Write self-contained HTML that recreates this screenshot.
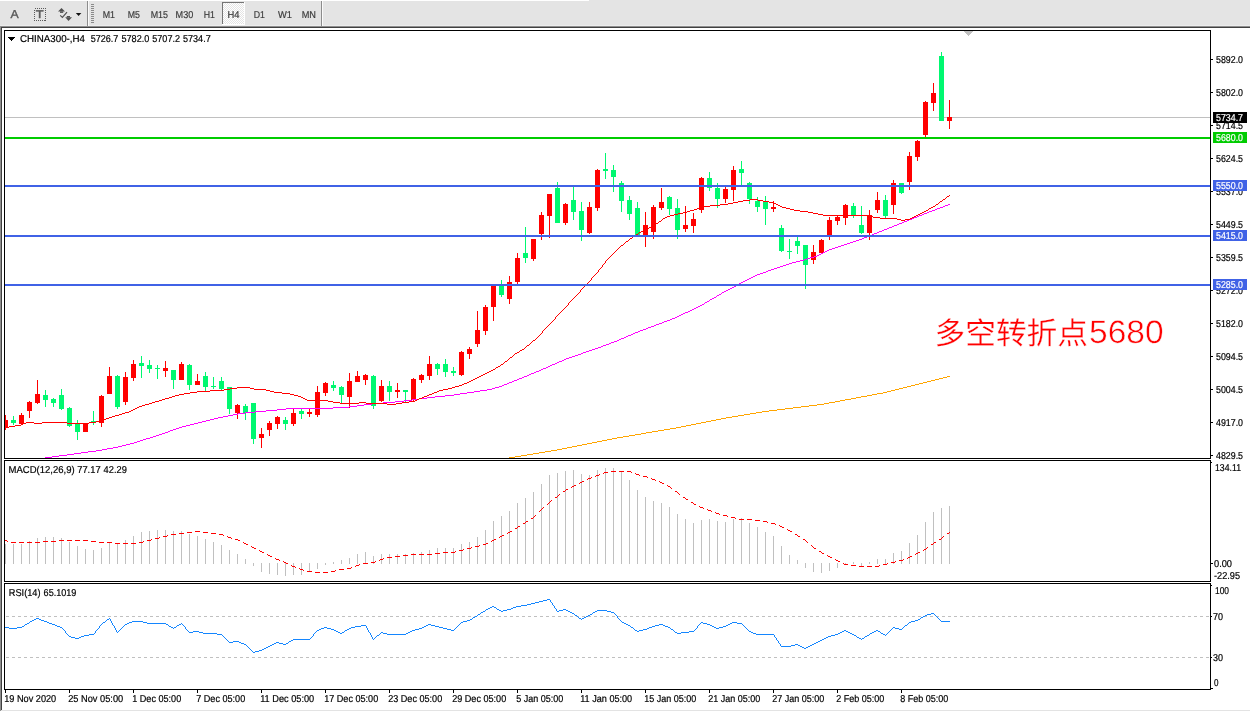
<!DOCTYPE html>
<html><head><meta charset="utf-8"><title>CHINA300 H4</title>
<style>html,body{margin:0;padding:0;background:#fff;overflow:hidden}svg{display:block;will-change:transform}</style>
</head><body>
<svg width="1250" height="712" viewBox="0 0 1250 712" shape-rendering="crispEdges" font-family="Liberation Sans, sans-serif" text-rendering="geometricPrecision">
<rect x="0" y="0" width="1250" height="712" fill="#fff"/>
<rect x="0" y="0" width="1250" height="26" fill="#e4e4e4"/>
<rect x="0" y="0" width="589" height="1" fill="#ffffff"/>
<rect x="0" y="25" width="1250" height="1" fill="#ececec"/>
<rect x="0" y="26" width="1250" height="1" fill="#8e8e8e"/>
<rect x="1" y="27" width="1249" height="1" fill="#404040"/>
<rect x="0" y="26" width="1" height="685" fill="#8e8e8e"/>
<rect x="1" y="710" width="1249" height="1" fill="#e3e3e3"/>
<rect x="1" y="27" width="1" height="683" fill="#404040"/>
<rect x="87" y="1" width="1" height="25" fill="#8c8c8c"/>
<rect x="88" y="1" width="1" height="25" fill="#fafafa"/>
<rect x="321" y="1" width="1" height="25" fill="#8c8c8c"/>
<rect x="322" y="1" width="1" height="25" fill="#fafafa"/>
<rect x="91" y="4" width="3" height="1" fill="#8a8a8a"/>
<rect x="91" y="6" width="3" height="1" fill="#8a8a8a"/>
<rect x="91" y="8" width="3" height="1" fill="#8a8a8a"/>
<rect x="91" y="10" width="3" height="1" fill="#8a8a8a"/>
<rect x="91" y="12" width="3" height="1" fill="#8a8a8a"/>
<rect x="91" y="14" width="3" height="1" fill="#8a8a8a"/>
<rect x="91" y="16" width="3" height="1" fill="#8a8a8a"/>
<rect x="91" y="18" width="3" height="1" fill="#8a8a8a"/>
<rect x="91" y="20" width="3" height="1" fill="#8a8a8a"/>
<rect x="91" y="22" width="3" height="1" fill="#8a8a8a"/>
<defs><pattern id="ck" x="223" y="3" width="2" height="2" patternUnits="userSpaceOnUse"><rect width="2" height="2" fill="#fff"/><rect x="0" y="0" width="1" height="1" fill="#e4e4e4"/><rect x="1" y="1" width="1" height="1" fill="#e4e4e4"/></pattern></defs>
<rect x="223" y="3" width="21" height="21" fill="url(#ck)"/>
<rect x="222" y="2" width="22" height="1" fill="#747474"/>
<rect x="222" y="2" width="1" height="22" fill="#747474"/>
<rect x="222" y="24" width="23" height="1" fill="#ffffff"/>
<rect x="244" y="2" width="1" height="23" fill="#ffffff"/>
<text x="10.5" y="18.1" font-size="11.5" fill="#5a5a5a" stroke="#5a5a5a" stroke-width="0.35" textLength="8.2" lengthAdjust="spacingAndGlyphs">A</text>
<rect x="34.5" y="8.5" width="11" height="12" fill="none" stroke="#5a5a5a" stroke-dasharray="1 1"/>
<text x="35.8" y="18.3" font-size="11.2" fill="#5a5a5a" stroke="#5a5a5a" stroke-width="0.45" textLength="7.8" lengthAdjust="spacingAndGlyphs">T</text>
<g shape-rendering="auto" fill="#505050"><path d="M58 11.6 L61.5 8 L65 11.6 Z"/><rect x="60" y="11.4" width="3.2" height="1.5"/><path d="M65.2 17.2 L72 17.2 L68.5 20.9 Z"/><rect x="66.8" y="16" width="3.2" height="1.4"/><path d="M60.2 15.4 L62.4 17.5 L67 12.2" fill="none" stroke="#505050" stroke-width="1.2"/><path d="M75.8 13 L81.4 13 L78.6 16 Z" fill="#111"/></g>
<text x="102.7" y="18" font-size="10" fill="#3c3c3c" stroke="#3c3c3c" stroke-width="0.2" textLength="12.3" lengthAdjust="spacingAndGlyphs" >M1</text>
<text x="127.8" y="18" font-size="10" fill="#3c3c3c" stroke="#3c3c3c" stroke-width="0.2" textLength="12.2" lengthAdjust="spacingAndGlyphs" >M5</text>
<text x="150.7" y="18" font-size="10" fill="#3c3c3c" stroke="#3c3c3c" stroke-width="0.2" textLength="17.3" lengthAdjust="spacingAndGlyphs" >M15</text>
<text x="175.6" y="18" font-size="10" fill="#3c3c3c" stroke="#3c3c3c" stroke-width="0.2" textLength="17.7" lengthAdjust="spacingAndGlyphs" >M30</text>
<text x="203.8" y="18" font-size="10" fill="#3c3c3c" stroke="#3c3c3c" stroke-width="0.2" textLength="11.2" lengthAdjust="spacingAndGlyphs" >H1</text>
<text x="227.6" y="18" font-size="10" fill="#3c3c3c" stroke="#3c3c3c" stroke-width="0.2" textLength="12" lengthAdjust="spacingAndGlyphs" >H4</text>
<text x="253.8" y="18" font-size="10" fill="#3c3c3c" stroke="#3c3c3c" stroke-width="0.2" textLength="11.2" lengthAdjust="spacingAndGlyphs" >D1</text>
<text x="278" y="18" font-size="10" fill="#3c3c3c" stroke="#3c3c3c" stroke-width="0.2" textLength="14" lengthAdjust="spacingAndGlyphs" >W1</text>
<text x="301.7" y="18" font-size="10" fill="#3c3c3c" stroke="#3c3c3c" stroke-width="0.2" textLength="14.3" lengthAdjust="spacingAndGlyphs" >MN</text>
<rect x="5" y="117" width="1205" height="1" fill="#c0c0c0"/>
<rect x="5" y="415" width="1" height="15" fill="#ff0000"/>
<rect x="5" y="420" width="3" height="8" fill="#ff0000"/>
<rect x="13" y="416" width="1" height="9" fill="#00f870"/>
<rect x="11" y="420" width="5" height="3" fill="#00f870"/>
<rect x="21" y="413" width="1" height="11" fill="#ff0000"/>
<rect x="19" y="415" width="5" height="9" fill="#ff0000"/>
<rect x="29" y="401" width="1" height="17" fill="#ff0000"/>
<rect x="27" y="402" width="5" height="9" fill="#ff0000"/>
<rect x="37" y="380" width="1" height="24" fill="#ff0000"/>
<rect x="35" y="394" width="5" height="9" fill="#ff0000"/>
<rect x="45" y="390" width="1" height="17" fill="#00f870"/>
<rect x="43" y="395" width="5" height="5" fill="#00f870"/>
<rect x="53" y="398" width="1" height="9" fill="#00f870"/>
<rect x="51" y="399" width="5" height="4" fill="#00f870"/>
<rect x="61" y="389" width="1" height="21" fill="#00f870"/>
<rect x="59" y="395" width="5" height="14" fill="#00f870"/>
<rect x="69" y="407" width="1" height="20" fill="#00f870"/>
<rect x="67" y="408" width="5" height="18" fill="#00f870"/>
<rect x="77" y="420" width="1" height="20" fill="#00f870"/>
<rect x="75" y="423" width="5" height="9" fill="#00f870"/>
<rect x="85" y="423" width="1" height="9" fill="#ff0000"/>
<rect x="83" y="423" width="5" height="9" fill="#ff0000"/>
<rect x="93" y="411" width="1" height="14" fill="#00f870"/>
<rect x="91" y="421" width="5" height="2" fill="#00f870"/>
<rect x="101" y="395" width="1" height="32" fill="#ff0000"/>
<rect x="99" y="396" width="5" height="27" fill="#ff0000"/>
<rect x="109" y="367" width="1" height="27" fill="#ff0000"/>
<rect x="107" y="376" width="5" height="18" fill="#ff0000"/>
<rect x="117" y="375" width="1" height="34" fill="#00f870"/>
<rect x="115" y="376" width="5" height="31" fill="#00f870"/>
<rect x="125" y="372" width="1" height="33" fill="#ff0000"/>
<rect x="123" y="377" width="5" height="25" fill="#ff0000"/>
<rect x="133" y="360" width="1" height="21" fill="#ff0000"/>
<rect x="131" y="364" width="5" height="14" fill="#ff0000"/>
<rect x="141" y="356" width="1" height="22" fill="#00f870"/>
<rect x="139" y="363" width="5" height="3" fill="#00f870"/>
<rect x="149" y="360" width="1" height="13" fill="#00f870"/>
<rect x="147" y="365" width="5" height="4" fill="#00f870"/>
<rect x="157" y="365" width="1" height="14" fill="#00f870"/>
<rect x="155" y="368" width="5" height="1" fill="#00f870"/>
<rect x="165" y="361" width="1" height="16" fill="#ff0000"/>
<rect x="163" y="368" width="5" height="3" fill="#ff0000"/>
<rect x="173" y="370" width="1" height="19" fill="#00f870"/>
<rect x="171" y="370" width="5" height="10" fill="#00f870"/>
<rect x="181" y="362" width="1" height="18" fill="#ff0000"/>
<rect x="179" y="364" width="5" height="16" fill="#ff0000"/>
<rect x="189" y="364" width="1" height="26" fill="#00f870"/>
<rect x="187" y="365" width="5" height="20" fill="#00f870"/>
<rect x="197" y="374" width="1" height="11" fill="#ff0000"/>
<rect x="195" y="381" width="5" height="4" fill="#ff0000"/>
<rect x="205" y="372" width="1" height="20" fill="#00f870"/>
<rect x="203" y="376" width="5" height="11" fill="#00f870"/>
<rect x="213" y="377" width="1" height="12" fill="#00f870"/>
<rect x="211" y="386" width="5" height="1" fill="#00f870"/>
<rect x="221" y="377" width="1" height="14" fill="#00f870"/>
<rect x="219" y="381" width="5" height="8" fill="#00f870"/>
<rect x="229" y="387" width="1" height="27" fill="#00f870"/>
<rect x="227" y="387" width="5" height="22" fill="#00f870"/>
<rect x="237" y="404" width="1" height="15" fill="#ff0000"/>
<rect x="235" y="405" width="5" height="8" fill="#ff0000"/>
<rect x="245" y="404" width="1" height="16" fill="#00f870"/>
<rect x="243" y="406" width="5" height="7" fill="#00f870"/>
<rect x="253" y="403" width="1" height="41" fill="#00f870"/>
<rect x="251" y="403" width="5" height="36" fill="#00f870"/>
<rect x="261" y="428" width="1" height="20" fill="#ff0000"/>
<rect x="259" y="434" width="5" height="4" fill="#ff0000"/>
<rect x="269" y="421" width="1" height="15" fill="#ff0000"/>
<rect x="267" y="423" width="5" height="7" fill="#ff0000"/>
<rect x="277" y="416" width="1" height="13" fill="#ff0000"/>
<rect x="275" y="417" width="5" height="7" fill="#ff0000"/>
<rect x="285" y="417" width="1" height="13" fill="#00f870"/>
<rect x="283" y="420" width="5" height="4" fill="#00f870"/>
<rect x="293" y="409" width="1" height="17" fill="#ff0000"/>
<rect x="291" y="413" width="5" height="11" fill="#ff0000"/>
<rect x="301" y="409" width="1" height="10" fill="#00f870"/>
<rect x="299" y="411" width="5" height="3" fill="#00f870"/>
<rect x="309" y="409" width="1" height="8" fill="#ff0000"/>
<rect x="307" y="412" width="5" height="2" fill="#ff0000"/>
<rect x="317" y="386" width="1" height="31" fill="#ff0000"/>
<rect x="315" y="392" width="5" height="23" fill="#ff0000"/>
<rect x="325" y="382" width="1" height="14" fill="#ff0000"/>
<rect x="323" y="383" width="5" height="10" fill="#ff0000"/>
<rect x="333" y="381" width="1" height="10" fill="#00f870"/>
<rect x="331" y="385" width="5" height="3" fill="#00f870"/>
<rect x="341" y="386" width="1" height="18" fill="#00f870"/>
<rect x="339" y="387" width="5" height="8" fill="#00f870"/>
<rect x="349" y="373" width="1" height="35" fill="#ff0000"/>
<rect x="347" y="381" width="5" height="16" fill="#ff0000"/>
<rect x="357" y="371" width="1" height="11" fill="#ff0000"/>
<rect x="355" y="376" width="5" height="6" fill="#ff0000"/>
<rect x="365" y="374" width="1" height="11" fill="#ff0000"/>
<rect x="363" y="375" width="5" height="5" fill="#ff0000"/>
<rect x="373" y="375" width="1" height="34" fill="#00f870"/>
<rect x="371" y="376" width="5" height="30" fill="#00f870"/>
<rect x="381" y="380" width="1" height="22" fill="#ff0000"/>
<rect x="379" y="386" width="5" height="15" fill="#ff0000"/>
<rect x="389" y="381" width="1" height="20" fill="#00f870"/>
<rect x="387" y="386" width="5" height="6" fill="#00f870"/>
<rect x="397" y="383" width="1" height="15" fill="#ff0000"/>
<rect x="395" y="390" width="5" height="2" fill="#ff0000"/>
<rect x="405" y="390" width="1" height="12" fill="#00f870"/>
<rect x="403" y="390" width="5" height="2" fill="#00f870"/>
<rect x="413" y="378" width="1" height="24" fill="#ff0000"/>
<rect x="411" y="379" width="5" height="21" fill="#ff0000"/>
<rect x="421" y="374" width="1" height="9" fill="#ff0000"/>
<rect x="419" y="375" width="5" height="5" fill="#ff0000"/>
<rect x="429" y="356" width="1" height="24" fill="#ff0000"/>
<rect x="427" y="364" width="5" height="12" fill="#ff0000"/>
<rect x="437" y="363" width="1" height="12" fill="#00f870"/>
<rect x="435" y="364" width="5" height="5" fill="#00f870"/>
<rect x="445" y="359" width="1" height="18" fill="#00f870"/>
<rect x="443" y="364" width="5" height="8" fill="#00f870"/>
<rect x="453" y="367" width="1" height="9" fill="#00f870"/>
<rect x="451" y="371" width="5" height="2" fill="#00f870"/>
<rect x="461" y="351" width="1" height="25" fill="#ff0000"/>
<rect x="459" y="352" width="5" height="23" fill="#ff0000"/>
<rect x="469" y="347" width="1" height="12" fill="#ff0000"/>
<rect x="467" y="349" width="5" height="5" fill="#ff0000"/>
<rect x="477" y="311" width="1" height="36" fill="#ff0000"/>
<rect x="475" y="330" width="5" height="14" fill="#ff0000"/>
<rect x="485" y="305" width="1" height="30" fill="#ff0000"/>
<rect x="483" y="307" width="5" height="24" fill="#ff0000"/>
<rect x="493" y="284" width="1" height="37" fill="#ff0000"/>
<rect x="491" y="284" width="5" height="23" fill="#ff0000"/>
<rect x="501" y="280" width="1" height="17" fill="#00f870"/>
<rect x="499" y="286" width="5" height="9" fill="#00f870"/>
<rect x="509" y="276" width="1" height="28" fill="#ff0000"/>
<rect x="507" y="282" width="5" height="17" fill="#ff0000"/>
<rect x="517" y="253" width="1" height="31" fill="#ff0000"/>
<rect x="515" y="258" width="5" height="24" fill="#ff0000"/>
<rect x="525" y="227" width="1" height="36" fill="#00f870"/>
<rect x="523" y="253" width="5" height="5" fill="#00f870"/>
<rect x="533" y="239" width="1" height="22" fill="#ff0000"/>
<rect x="531" y="239" width="5" height="20" fill="#ff0000"/>
<rect x="541" y="212" width="1" height="28" fill="#ff0000"/>
<rect x="539" y="215" width="5" height="19" fill="#ff0000"/>
<rect x="549" y="194" width="1" height="44" fill="#ff0000"/>
<rect x="547" y="194" width="5" height="22" fill="#ff0000"/>
<rect x="557" y="182" width="1" height="41" fill="#00f870"/>
<rect x="555" y="188" width="5" height="35" fill="#00f870"/>
<rect x="565" y="203" width="1" height="22" fill="#ff0000"/>
<rect x="563" y="204" width="5" height="19" fill="#ff0000"/>
<rect x="573" y="185" width="1" height="35" fill="#00f870"/>
<rect x="571" y="200" width="5" height="12" fill="#00f870"/>
<rect x="581" y="202" width="1" height="39" fill="#00f870"/>
<rect x="579" y="211" width="5" height="19" fill="#00f870"/>
<rect x="589" y="202" width="1" height="32" fill="#ff0000"/>
<rect x="587" y="207" width="5" height="26" fill="#ff0000"/>
<rect x="597" y="169" width="1" height="42" fill="#ff0000"/>
<rect x="595" y="170" width="5" height="38" fill="#ff0000"/>
<rect x="605" y="153" width="1" height="26" fill="#00f870"/>
<rect x="603" y="169" width="5" height="2" fill="#00f870"/>
<rect x="613" y="165" width="1" height="27" fill="#00f870"/>
<rect x="611" y="170" width="5" height="7" fill="#00f870"/>
<rect x="621" y="181" width="1" height="31" fill="#00f870"/>
<rect x="619" y="183" width="5" height="18" fill="#00f870"/>
<rect x="629" y="196" width="1" height="24" fill="#00f870"/>
<rect x="627" y="200" width="5" height="14" fill="#00f870"/>
<rect x="637" y="202" width="1" height="34" fill="#00f870"/>
<rect x="635" y="208" width="5" height="28" fill="#00f870"/>
<rect x="645" y="212" width="1" height="35" fill="#ff0000"/>
<rect x="643" y="225" width="5" height="11" fill="#ff0000"/>
<rect x="653" y="205" width="1" height="34" fill="#ff0000"/>
<rect x="651" y="207" width="5" height="25" fill="#ff0000"/>
<rect x="661" y="188" width="1" height="22" fill="#ff0000"/>
<rect x="659" y="202" width="5" height="6" fill="#ff0000"/>
<rect x="669" y="196" width="1" height="19" fill="#00f870"/>
<rect x="667" y="197" width="5" height="12" fill="#00f870"/>
<rect x="677" y="199" width="1" height="40" fill="#00f870"/>
<rect x="675" y="208" width="5" height="22" fill="#00f870"/>
<rect x="685" y="206" width="1" height="26" fill="#ff0000"/>
<rect x="683" y="225" width="5" height="4" fill="#ff0000"/>
<rect x="693" y="213" width="1" height="20" fill="#ff0000"/>
<rect x="691" y="219" width="5" height="7" fill="#ff0000"/>
<rect x="701" y="177" width="1" height="36" fill="#ff0000"/>
<rect x="699" y="178" width="5" height="32" fill="#ff0000"/>
<rect x="709" y="172" width="1" height="19" fill="#00f870"/>
<rect x="707" y="178" width="5" height="10" fill="#00f870"/>
<rect x="717" y="183" width="1" height="25" fill="#00f870"/>
<rect x="715" y="188" width="5" height="11" fill="#00f870"/>
<rect x="725" y="187" width="1" height="16" fill="#ff0000"/>
<rect x="723" y="189" width="5" height="10" fill="#ff0000"/>
<rect x="733" y="166" width="1" height="35" fill="#ff0000"/>
<rect x="731" y="170" width="5" height="20" fill="#ff0000"/>
<rect x="741" y="161" width="1" height="24" fill="#00f870"/>
<rect x="739" y="169" width="5" height="4" fill="#00f870"/>
<rect x="749" y="182" width="1" height="22" fill="#00f870"/>
<rect x="747" y="183" width="5" height="16" fill="#00f870"/>
<rect x="757" y="197" width="1" height="15" fill="#00f870"/>
<rect x="755" y="201" width="5" height="6" fill="#00f870"/>
<rect x="765" y="196" width="1" height="29" fill="#00f870"/>
<rect x="763" y="202" width="5" height="7" fill="#00f870"/>
<rect x="773" y="201" width="1" height="11" fill="#ff0000"/>
<rect x="771" y="207" width="5" height="2" fill="#ff0000"/>
<rect x="781" y="225" width="1" height="27" fill="#00f870"/>
<rect x="779" y="228" width="5" height="23" fill="#00f870"/>
<rect x="789" y="239" width="1" height="20" fill="#00f870"/>
<rect x="787" y="251" width="5" height="1" fill="#00f870"/>
<rect x="797" y="237" width="1" height="17" fill="#00f870"/>
<rect x="795" y="241" width="5" height="5" fill="#00f870"/>
<rect x="805" y="245" width="1" height="44" fill="#00f870"/>
<rect x="803" y="245" width="5" height="20" fill="#00f870"/>
<rect x="813" y="245" width="1" height="19" fill="#ff0000"/>
<rect x="811" y="252" width="5" height="8" fill="#ff0000"/>
<rect x="821" y="239" width="1" height="14" fill="#ff0000"/>
<rect x="819" y="240" width="5" height="13" fill="#ff0000"/>
<rect x="829" y="217" width="1" height="23" fill="#ff0000"/>
<rect x="827" y="220" width="5" height="16" fill="#ff0000"/>
<rect x="837" y="216" width="1" height="9" fill="#ff0000"/>
<rect x="835" y="217" width="5" height="4" fill="#ff0000"/>
<rect x="845" y="204" width="1" height="21" fill="#ff0000"/>
<rect x="843" y="205" width="5" height="13" fill="#ff0000"/>
<rect x="853" y="203" width="1" height="15" fill="#00f870"/>
<rect x="851" y="206" width="5" height="9" fill="#00f870"/>
<rect x="861" y="206" width="1" height="28" fill="#00f870"/>
<rect x="859" y="225" width="5" height="8" fill="#00f870"/>
<rect x="869" y="210" width="1" height="30" fill="#ff0000"/>
<rect x="867" y="215" width="5" height="18" fill="#ff0000"/>
<rect x="877" y="192" width="1" height="21" fill="#ff0000"/>
<rect x="875" y="200" width="5" height="10" fill="#ff0000"/>
<rect x="885" y="195" width="1" height="23" fill="#00f870"/>
<rect x="883" y="200" width="5" height="16" fill="#00f870"/>
<rect x="893" y="180" width="1" height="34" fill="#ff0000"/>
<rect x="891" y="183" width="5" height="22" fill="#ff0000"/>
<rect x="901" y="183" width="1" height="11" fill="#00f870"/>
<rect x="899" y="183" width="5" height="10" fill="#00f870"/>
<rect x="909" y="152" width="1" height="38" fill="#ff0000"/>
<rect x="907" y="156" width="5" height="26" fill="#ff0000"/>
<rect x="917" y="140" width="1" height="21" fill="#ff0000"/>
<rect x="915" y="141" width="5" height="16" fill="#ff0000"/>
<rect x="925" y="101" width="1" height="36" fill="#ff0000"/>
<rect x="923" y="102" width="5" height="33" fill="#ff0000"/>
<rect x="933" y="83" width="1" height="28" fill="#ff0000"/>
<rect x="931" y="93" width="5" height="10" fill="#ff0000"/>
<rect x="941" y="52" width="1" height="69" fill="#00f870"/>
<rect x="939" y="56" width="5" height="65" fill="#00f870"/>
<rect x="949" y="100" width="1" height="29" fill="#ff0000"/>
<rect x="947" y="117" width="5" height="4" fill="#ff0000"/>
<path d="M947 376.5h3M943 377.5h4M939 378.5h4M935 379.5h4M931 380.5h4M927 381.5h4M923 382.5h4M919 383.5h4M915 384.5h4M911 385.5h4M907 386.5h4M903 387.5h4M899 388.5h4M895 389.5h4M891 390.5h4M887 391.5h4M883 392.5h4M877 393.5h6M872 394.5h5M867 395.5h5M861 396.5h6M856 397.5h5M851 398.5h5M845 399.5h6M840 400.5h5M835 401.5h5M829 402.5h6M824 403.5h5M817 404.5h7M809 405.5h8M801 406.5h8M793 407.5h8M785 408.5h8M777 409.5h8M769 410.5h8M762 411.5h7M756 412.5h6M750 413.5h6M744 414.5h6M738 415.5h6M732 416.5h6M726 417.5h6M721 418.5h5M716 419.5h5M711 420.5h5M706 421.5h5M701 422.5h5M696 423.5h5M691 424.5h5M686 425.5h5M681 426.5h5M676 427.5h5M670 428.5h6M664 429.5h6M658 430.5h6M652 431.5h6M646 432.5h6M641 433.5h5M635 434.5h6M629 435.5h6M623 436.5h6M617 437.5h6M612 438.5h5M607 439.5h5M602 440.5h5M597 441.5h5M592 442.5h5M587 443.5h5M582 444.5h5M577 445.5h5M572 446.5h5M567 447.5h5M562 448.5h5M557 449.5h5M551 450.5h6M545 451.5h6M539 452.5h6M533 453.5h6M527 454.5h6M521 455.5h6M515 456.5h6M509 457.5h6M505 458.5h4" fill="none" stroke="#ffa500" stroke-width="1"/>
<path d="M948 204.5h2M945 205.5h3M943 206.5h2M940 207.5h3M937 208.5h3M935 209.5h2M932 210.5h3M929 211.5h3M927 212.5h2M924 213.5h3M922 214.5h2M919 215.5h3M917 216.5h2M914 217.5h3M912 218.5h2M909 219.5h3M907 220.5h2M904 221.5h3M902 222.5h2M899 223.5h3M897 224.5h2M894 225.5h3M892 226.5h2M889 227.5h3M887 228.5h2M884 229.5h3M882 230.5h2M879 231.5h3M877 232.5h2M874 233.5h3M872 234.5h2M869 235.5h3M867 236.5h2M864 237.5h3M862 238.5h2M859 239.5h3M856 240.5h3M853 241.5h3M850 242.5h3M847 243.5h3M844 244.5h3M841 245.5h3M838 246.5h3M835 247.5h3M832 248.5h3M829 249.5h3M827 250.5h2M825 251.5h2M823 252.5h2M821 253.5h2M819 254.5h2M817 255.5h2M814 256.5h3M810 257.5h4M807 258.5h3M804 259.5h3M800 260.5h4M796 261.5h4M792 262.5h4M789 263.5h3M786 264.5h3M783 265.5h3M780 266.5h3M777 267.5h3M774 268.5h3M771 269.5h3M768 270.5h3M766 271.5h2M763 272.5h3M760 273.5h3M757 274.5h3M755 275.5h2M753 276.5h2M751 277.5h2M749 278.5h2M747 279.5h2M745 280.5h2M743 281.5h2M741 282.5h2M739 283.5h2M737 284.5h2M736 285.5h1M734 286.5h2M732 287.5h2M730 288.5h2M728 289.5h2M726 290.5h2M724 291.5h2M722 292.5h2M721 293.5h1M719 294.5h2M717 295.5h2M716 296.5h1M714 297.5h2M712 298.5h2M710 299.5h2M709 300.5h1M707 301.5h2M705 302.5h2M704 303.5h1M702 304.5h2M700 305.5h2M698 306.5h2M696 307.5h2M694 308.5h2M692 309.5h2M690 310.5h2M688 311.5h2M685 312.5h3M683 313.5h2M681 314.5h2M679 315.5h2M677 316.5h2M675 317.5h2M672 318.5h3M670 319.5h2M667 320.5h3M664 321.5h3M662 322.5h2M659 323.5h3M656 324.5h3M654 325.5h2M651 326.5h3M648 327.5h3M646 328.5h2M643 329.5h3M640 330.5h3M638 331.5h2M635 332.5h3M633 333.5h2M631 334.5h2M628 335.5h3M626 336.5h2M624 337.5h2M621 338.5h3M619 339.5h2M617 340.5h2M614 341.5h3M611 342.5h3M609 343.5h2M606 344.5h3M603 345.5h3M601 346.5h2M598 347.5h3M595 348.5h3M592 349.5h3M589 350.5h3M586 351.5h3M583 352.5h3M581 353.5h2M578 354.5h3M575 355.5h3M572 356.5h3M569 357.5h3M566 358.5h3M564 359.5h2M562 360.5h2M559 361.5h3M557 362.5h2M555 363.5h2M552 364.5h3M550 365.5h2M548 366.5h2M546 367.5h2M543 368.5h3M541 369.5h2M539 370.5h2M536 371.5h3M534 372.5h2M531 373.5h3M529 374.5h2M527 375.5h2M524 376.5h3M522 377.5h2M519 378.5h3M517 379.5h2M514 380.5h3M512 381.5h2M509 382.5h3M507 383.5h2M504 384.5h3M502 385.5h2M499 386.5h3M495 387.5h4M492 388.5h3M487 389.5h5M480 390.5h7M474 391.5h6M467 392.5h7M460 393.5h7M454 394.5h6M445 395.5h9M435 396.5h10M427 397.5h8M419 398.5h8M412 399.5h7M404 400.5h8M395 401.5h9M383 402.5h12M372 403.5h11M364 404.5h8M357 405.5h7M349 406.5h8M333 407.5h16M286 408.5h47M277 409.5h9M266 410.5h11M255 411.5h11M245 412.5h10M238 413.5h7M233 414.5h5M228 415.5h5M223 416.5h5M218 417.5h5M214 418.5h4M210 419.5h4M206 420.5h4M202 421.5h4M198 422.5h4M194 423.5h4M190 424.5h4M186 425.5h4M182 426.5h4M179 427.5h3M176 428.5h3M173 429.5h3M170 430.5h3M168 431.5h2M165 432.5h3M162 433.5h3M159 434.5h3M156 435.5h3M153 436.5h3M150 437.5h3M146 438.5h4M143 439.5h3M140 440.5h3M137 441.5h3M134 442.5h3M130 443.5h4M126 444.5h4M122 445.5h4M118 446.5h4M113 447.5h5M107 448.5h6M102 449.5h5M96 450.5h6M88 451.5h8M81 452.5h7M74 453.5h7M67 454.5h7M59 455.5h8M52 456.5h7M45 457.5h7M41 458.5h4" fill="none" stroke="#ff00ff" stroke-width="1"/>
<path d="M949 195.5h1M947 196.5h2M946 197.5h1M945 198.5h1M750 199.5h8M943 199.5h2M743 200.5h7M758 200.5h5M942 200.5h1M738 201.5h5M763 201.5h6M940 201.5h2M733 202.5h5M769 202.5h5M939 202.5h1M728 203.5h5M774 203.5h2M938 203.5h1M720 204.5h8M776 204.5h2M936 204.5h2M710 205.5h10M778 205.5h2M935 205.5h1M704 206.5h6M780 206.5h2M933 206.5h2M700 207.5h4M782 207.5h4M931 207.5h2M697 208.5h3M786 208.5h4M929 208.5h2M694 209.5h3M790 209.5h4M928 209.5h1M690 210.5h4M794 210.5h6M926 210.5h2M687 211.5h3M800 211.5h8M924 211.5h2M683 212.5h4M808 212.5h5M922 212.5h2M678 213.5h5M813 213.5h5M920 213.5h2M674 214.5h4M818 214.5h5M918 214.5h2M670 215.5h4M823 215.5h45M916 215.5h2M667 216.5h3M868 216.5h5M914 216.5h2M665 217.5h2M873 217.5h7M912 217.5h2M663 218.5h2M880 218.5h17M910 218.5h2M662 219.5h1M897 219.5h4M905 219.5h5M661 220.5h1M901 220.5h4M659 221.5h2M658 222.5h1M656 223.5h2M654 224.5h2M653 225.5h1M651 226.5h2M649 227.5h2M647 228.5h2M645 229.5h2M643 230.5h2M641 231.5h2M639 232.5h2M638 233.5h1M636 234.5h2M635 235.5h1M633 236.5h2M632 237.5h1M630 238.5h2M629 239.5h1M628 240.5h1M626 241.5h2M625 242.5h1M624 243.5h1M623 244.5h1M621 245.5h2M620 246.5h1M619 247.5h1M618 248.5h1M617 249.5h1M616 250.5h1M615 251.5h1M614 252.5h1M613 253.5h1M612 254.5h1M611 255.5h1M610 256.5h1M609 257.5h1M608 258.5h1M607 259.5h1M606 260.5h1M605 261.5h1M605 262.5h1M604 263.5h1M603 264.5h1M602 265.5h1M602 266.5h1M601 267.5h1M600 268.5h1M599 269.5h1M598 270.5h1M598 271.5h1M597 272.5h1M596 273.5h1M595 274.5h1M594 275.5h1M593 276.5h1M592 277.5h1M591 278.5h1M591 279.5h1M590 280.5h1M589 281.5h1M588 282.5h1M587 283.5h1M586 284.5h1M585 285.5h1M584 286.5h1M583 287.5h1M582 288.5h1M581 289.5h1M580 290.5h1M580 291.5h1M579 292.5h1M578 293.5h1M577 294.5h1M576 295.5h1M575 296.5h1M574 297.5h1M573 298.5h1M572 299.5h1M571 300.5h1M570 301.5h1M569 302.5h1M568 303.5h1M568 304.5h1M567 305.5h1M566 306.5h1M565 307.5h1M564 308.5h1M563 309.5h1M562 310.5h1M561 311.5h1M560 312.5h1M559 313.5h1M558 314.5h1M557 315.5h1M556 316.5h1M555 317.5h1M555 318.5h1M554 319.5h1M553 320.5h1M552 321.5h1M551 322.5h1M550 323.5h1M549 324.5h1M548 325.5h1M547 326.5h1M546 327.5h1M545 328.5h1M544 329.5h1M543 330.5h1M542 331.5h1M542 332.5h1M541 333.5h1M540 334.5h1M539 335.5h1M538 336.5h1M537 337.5h1M536 338.5h1M535 339.5h1M533 340.5h2M532 341.5h1M531 342.5h1M530 343.5h1M529 344.5h1M527 345.5h2M526 346.5h1M525 347.5h1M524 348.5h1M522 349.5h2M520 350.5h2M519 351.5h1M517 352.5h2M515 353.5h2M514 354.5h1M513 355.5h1M512 356.5h1M510 357.5h2M509 358.5h1M508 359.5h1M507 360.5h1M505 361.5h2M504 362.5h1M503 363.5h1M501 364.5h2M500 365.5h1M498 366.5h2M496 367.5h2M495 368.5h1M493 369.5h2M491 370.5h2M489 371.5h2M487 372.5h2M485 373.5h2M483 374.5h2M481 375.5h2M479 376.5h2M477 377.5h2M475 378.5h2M473 379.5h2M471 380.5h2M469 381.5h2M467 382.5h2M464 383.5h3M462 384.5h2M459 385.5h3M455 386.5h4M237 387.5h13M452 387.5h3M230 388.5h7M250 388.5h4M448 388.5h4M224 389.5h6M254 389.5h12M443 389.5h5M210 390.5h14M266 390.5h4M439 390.5h4M197 391.5h13M270 391.5h4M437 391.5h2M190 392.5h7M274 392.5h8M434 392.5h3M184 393.5h6M282 393.5h8M432 393.5h2M179 394.5h5M290 394.5h4M429 394.5h3M175 395.5h4M294 395.5h4M427 395.5h2M172 396.5h3M298 396.5h3M424 396.5h3M169 397.5h3M301 397.5h2M422 397.5h2M165 398.5h4M303 398.5h2M419 398.5h3M162 399.5h3M305 399.5h2M417 399.5h2M159 400.5h3M307 400.5h21M415 400.5h2M155 401.5h4M328 401.5h5M409 401.5h6M152 402.5h3M333 402.5h7M359 402.5h7M402 402.5h7M149 403.5h3M340 403.5h19M366 403.5h21M396 403.5h6M145 404.5h4M387 404.5h9M142 405.5h3M139 406.5h3M137 407.5h2M135 408.5h2M133 409.5h2M131 410.5h2M129 411.5h2M125 412.5h4M122 413.5h3M119 414.5h3M115 415.5h4M112 416.5h3M109 417.5h3M106 418.5h3M103 419.5h3M101 420.5h2M96 421.5h5M26 422.5h8M42 422.5h25M89 422.5h7M23 423.5h3M34 423.5h8M67 423.5h22M21 424.5h2M15 425.5h6M9 426.5h6M5 427.5h4" fill="none" stroke="#ff0000" stroke-width="1"/>
<rect x="5" y="137" width="1205" height="2" fill="#00cc00"/>
<rect x="5" y="185" width="1205" height="2" fill="#4062e6"/>
<rect x="5" y="235" width="1205" height="2" fill="#4062e6"/>
<rect x="5" y="284" width="1205" height="2" fill="#4062e6"/>
<path d="M963 31 L973 31 L968 36 Z" fill="#c0c0c0"/>
<rect x="4" y="30" width="1207" height="1" fill="#000"/>
<rect x="4" y="458" width="1207" height="1" fill="#000"/>
<rect x="4" y="30" width="1" height="429" fill="#000"/>
<rect x="1210" y="30" width="1" height="429" fill="#000"/>
<rect x="4" y="460" width="1207" height="1" fill="#000"/>
<rect x="4" y="581" width="1207" height="1" fill="#000"/>
<rect x="4" y="460" width="1" height="122" fill="#000"/>
<rect x="1210" y="460" width="1" height="122" fill="#000"/>
<rect x="4" y="583" width="1207" height="1" fill="#000"/>
<rect x="4" y="689" width="1207" height="1" fill="#000"/>
<rect x="4" y="583" width="1" height="107" fill="#000"/>
<rect x="1210" y="583" width="1" height="107" fill="#000"/>
<rect x="5" y="544" width="1" height="20" fill="#c0c0c0"/>
<rect x="13" y="544" width="1" height="20" fill="#c0c0c0"/>
<rect x="21" y="544" width="1" height="20" fill="#c0c0c0"/>
<rect x="29" y="541" width="1" height="23" fill="#c0c0c0"/>
<rect x="37" y="538" width="1" height="26" fill="#c0c0c0"/>
<rect x="45" y="537" width="1" height="27" fill="#c0c0c0"/>
<rect x="53" y="537" width="1" height="27" fill="#c0c0c0"/>
<rect x="61" y="538" width="1" height="26" fill="#c0c0c0"/>
<rect x="69" y="542" width="1" height="22" fill="#c0c0c0"/>
<rect x="77" y="546" width="1" height="18" fill="#c0c0c0"/>
<rect x="85" y="549" width="1" height="15" fill="#c0c0c0"/>
<rect x="93" y="550" width="1" height="14" fill="#c0c0c0"/>
<rect x="101" y="548" width="1" height="16" fill="#c0c0c0"/>
<rect x="109" y="543" width="1" height="21" fill="#c0c0c0"/>
<rect x="117" y="544" width="1" height="20" fill="#c0c0c0"/>
<rect x="125" y="540" width="1" height="24" fill="#c0c0c0"/>
<rect x="133" y="536" width="1" height="28" fill="#c0c0c0"/>
<rect x="141" y="532" width="1" height="32" fill="#c0c0c0"/>
<rect x="149" y="531" width="1" height="33" fill="#c0c0c0"/>
<rect x="157" y="530" width="1" height="34" fill="#c0c0c0"/>
<rect x="165" y="530" width="1" height="34" fill="#c0c0c0"/>
<rect x="173" y="531" width="1" height="33" fill="#c0c0c0"/>
<rect x="181" y="531" width="1" height="33" fill="#c0c0c0"/>
<rect x="189" y="534" width="1" height="30" fill="#c0c0c0"/>
<rect x="197" y="536" width="1" height="28" fill="#c0c0c0"/>
<rect x="205" y="539" width="1" height="25" fill="#c0c0c0"/>
<rect x="213" y="542" width="1" height="22" fill="#c0c0c0"/>
<rect x="221" y="545" width="1" height="19" fill="#c0c0c0"/>
<rect x="229" y="550" width="1" height="14" fill="#c0c0c0"/>
<rect x="237" y="554" width="1" height="10" fill="#c0c0c0"/>
<rect x="245" y="559" width="1" height="5" fill="#c0c0c0"/>
<rect x="253" y="563" width="1" height="3" fill="#c0c0c0"/>
<rect x="261" y="563" width="1" height="9" fill="#c0c0c0"/>
<rect x="269" y="563" width="1" height="11" fill="#c0c0c0"/>
<rect x="277" y="563" width="1" height="12" fill="#c0c0c0"/>
<rect x="285" y="563" width="1" height="13" fill="#c0c0c0"/>
<rect x="293" y="563" width="1" height="12" fill="#c0c0c0"/>
<rect x="301" y="563" width="1" height="12" fill="#c0c0c0"/>
<rect x="309" y="563" width="1" height="9" fill="#c0c0c0"/>
<rect x="317" y="563" width="1" height="6" fill="#c0c0c0"/>
<rect x="325" y="563" width="1" height="2" fill="#c0c0c0"/>
<rect x="333" y="562" width="1" height="2" fill="#c0c0c0"/>
<rect x="341" y="560" width="1" height="4" fill="#c0c0c0"/>
<rect x="349" y="558" width="1" height="6" fill="#c0c0c0"/>
<rect x="357" y="554" width="1" height="10" fill="#c0c0c0"/>
<rect x="365" y="552" width="1" height="12" fill="#c0c0c0"/>
<rect x="373" y="556" width="1" height="8" fill="#c0c0c0"/>
<rect x="381" y="554" width="1" height="10" fill="#c0c0c0"/>
<rect x="389" y="554" width="1" height="10" fill="#c0c0c0"/>
<rect x="397" y="554" width="1" height="10" fill="#c0c0c0"/>
<rect x="405" y="554" width="1" height="10" fill="#c0c0c0"/>
<rect x="413" y="553" width="1" height="11" fill="#c0c0c0"/>
<rect x="421" y="552" width="1" height="12" fill="#c0c0c0"/>
<rect x="429" y="550" width="1" height="14" fill="#c0c0c0"/>
<rect x="437" y="548" width="1" height="16" fill="#c0c0c0"/>
<rect x="445" y="548" width="1" height="16" fill="#c0c0c0"/>
<rect x="453" y="548" width="1" height="16" fill="#c0c0c0"/>
<rect x="461" y="544" width="1" height="20" fill="#c0c0c0"/>
<rect x="469" y="542" width="1" height="22" fill="#c0c0c0"/>
<rect x="477" y="537" width="1" height="27" fill="#c0c0c0"/>
<rect x="485" y="530" width="1" height="34" fill="#c0c0c0"/>
<rect x="493" y="521" width="1" height="43" fill="#c0c0c0"/>
<rect x="501" y="516" width="1" height="48" fill="#c0c0c0"/>
<rect x="509" y="511" width="1" height="53" fill="#c0c0c0"/>
<rect x="517" y="503" width="1" height="61" fill="#c0c0c0"/>
<rect x="525" y="498" width="1" height="66" fill="#c0c0c0"/>
<rect x="533" y="492" width="1" height="72" fill="#c0c0c0"/>
<rect x="541" y="484" width="1" height="80" fill="#c0c0c0"/>
<rect x="549" y="475" width="1" height="89" fill="#c0c0c0"/>
<rect x="557" y="473" width="1" height="91" fill="#c0c0c0"/>
<rect x="565" y="471" width="1" height="93" fill="#c0c0c0"/>
<rect x="573" y="470" width="1" height="94" fill="#c0c0c0"/>
<rect x="581" y="474" width="1" height="90" fill="#c0c0c0"/>
<rect x="589" y="475" width="1" height="89" fill="#c0c0c0"/>
<rect x="597" y="470" width="1" height="94" fill="#c0c0c0"/>
<rect x="605" y="468" width="1" height="96" fill="#c0c0c0"/>
<rect x="613" y="468" width="1" height="96" fill="#c0c0c0"/>
<rect x="621" y="472" width="1" height="92" fill="#c0c0c0"/>
<rect x="629" y="480" width="1" height="84" fill="#c0c0c0"/>
<rect x="637" y="490" width="1" height="74" fill="#c0c0c0"/>
<rect x="645" y="497" width="1" height="67" fill="#c0c0c0"/>
<rect x="653" y="501" width="1" height="63" fill="#c0c0c0"/>
<rect x="661" y="503" width="1" height="61" fill="#c0c0c0"/>
<rect x="669" y="507" width="1" height="57" fill="#c0c0c0"/>
<rect x="677" y="514" width="1" height="50" fill="#c0c0c0"/>
<rect x="685" y="519" width="1" height="45" fill="#c0c0c0"/>
<rect x="693" y="523" width="1" height="41" fill="#c0c0c0"/>
<rect x="701" y="520" width="1" height="44" fill="#c0c0c0"/>
<rect x="709" y="519" width="1" height="45" fill="#c0c0c0"/>
<rect x="717" y="521" width="1" height="43" fill="#c0c0c0"/>
<rect x="725" y="522" width="1" height="42" fill="#c0c0c0"/>
<rect x="733" y="519" width="1" height="45" fill="#c0c0c0"/>
<rect x="741" y="518" width="1" height="46" fill="#c0c0c0"/>
<rect x="749" y="523" width="1" height="41" fill="#c0c0c0"/>
<rect x="757" y="527" width="1" height="37" fill="#c0c0c0"/>
<rect x="765" y="532" width="1" height="32" fill="#c0c0c0"/>
<rect x="773" y="536" width="1" height="28" fill="#c0c0c0"/>
<rect x="781" y="546" width="1" height="18" fill="#c0c0c0"/>
<rect x="789" y="555" width="1" height="9" fill="#c0c0c0"/>
<rect x="797" y="560" width="1" height="4" fill="#c0c0c0"/>
<rect x="805" y="563" width="1" height="5" fill="#c0c0c0"/>
<rect x="813" y="563" width="1" height="9" fill="#c0c0c0"/>
<rect x="821" y="563" width="1" height="10" fill="#c0c0c0"/>
<rect x="829" y="563" width="1" height="8" fill="#c0c0c0"/>
<rect x="837" y="563" width="1" height="5" fill="#c0c0c0"/>
<rect x="845" y="563" width="1" height="2" fill="#c0c0c0"/>
<rect x="853" y="562" width="1" height="2" fill="#c0c0c0"/>
<rect x="861" y="563" width="1" height="3" fill="#c0c0c0"/>
<rect x="869" y="562" width="1" height="2" fill="#c0c0c0"/>
<rect x="877" y="559" width="1" height="5" fill="#c0c0c0"/>
<rect x="885" y="559" width="1" height="5" fill="#c0c0c0"/>
<rect x="893" y="553" width="1" height="11" fill="#c0c0c0"/>
<rect x="901" y="551" width="1" height="13" fill="#c0c0c0"/>
<rect x="909" y="543" width="1" height="21" fill="#c0c0c0"/>
<rect x="917" y="535" width="1" height="29" fill="#c0c0c0"/>
<rect x="925" y="522" width="1" height="42" fill="#c0c0c0"/>
<rect x="933" y="512" width="1" height="52" fill="#c0c0c0"/>
<rect x="941" y="508" width="1" height="56" fill="#c0c0c0"/>
<rect x="949" y="506" width="1" height="58" fill="#c0c0c0"/>
<path d="M611 471.5h5M619 471.5h5M627 471.5h4M604 472.5h4M631 472.5h1M603 473.5h1M635 473.5h1M599 474.5h1M636 474.5h3M596 475.5h3M639 475.5h1M595 476.5h1M643 476.5h4M591 477.5h1M647 477.5h1M588 478.5h3M651 478.5h1M587 479.5h1M652 479.5h3M655 480.5h1M582 481.5h2M659 481.5h1M580 482.5h2M660 482.5h2M579 483.5h1M662 483.5h2M574 485.5h2M667 485.5h1M572 486.5h2M668 486.5h2M571 487.5h1M670 487.5h1M671 488.5h1M566 489.5h2M565 490.5h1M563 491.5h2M675 491.5h2M677 492.5h1M678 493.5h1M559 494.5h1M679 494.5h1M558 495.5h1M557 496.5h1M555 497.5h2M683 497.5h2M685 498.5h1M686 499.5h2M551 500.5h1M550 501.5h1M549 502.5h1M691 502.5h2M548 503.5h1M693 503.5h1M547 504.5h1M694 504.5h2M699 506.5h1M543 507.5h1M700 507.5h3M542 508.5h1M703 508.5h1M541 509.5h1M707 509.5h1M540 510.5h1M708 510.5h3M539 511.5h1M711 511.5h1M715 512.5h1M716 513.5h3M719 514.5h1M535 515.5h1M723 515.5h4M534 516.5h1M727 516.5h1M533 517.5h1M731 517.5h4M531 518.5h2M735 518.5h1M739 519.5h5M747 519.5h5M755 520.5h5M526 521.5h2M763 521.5h4M525 522.5h1M767 522.5h1M523 523.5h2M771 523.5h4M775 524.5h1M779 525.5h1M518 526.5h2M780 526.5h2M517 527.5h1M782 527.5h2M515 528.5h2M787 529.5h1M788 530.5h2M195 531.5h5M510 531.5h2M790 531.5h2M187 532.5h5M203 532.5h5M508 532.5h2M949 532.5h1M179 533.5h5M211 533.5h5M507 533.5h1M947 533.5h2M171 534.5h5M219 534.5h4M795 534.5h2M167 535.5h1M223 535.5h1M502 535.5h2M797 535.5h1M163 536.5h4M227 536.5h1M500 536.5h2M798 536.5h2M943 536.5h1M159 537.5h1M228 537.5h3M499 537.5h1M942 537.5h1M155 538.5h4M231 538.5h1M941 538.5h1M151 539.5h1M235 539.5h3M494 539.5h2M803 539.5h2M939 539.5h2M5 540.5h2M59 540.5h5M67 540.5h5M75 540.5h5M83 540.5h5M147 540.5h4M238 540.5h2M492 540.5h2M805 540.5h1M7 541.5h1M43 541.5h5M51 541.5h5M91 541.5h5M143 541.5h1M491 541.5h1M806 541.5h1M11 542.5h5M19 542.5h5M27 542.5h5M35 542.5h5M99 542.5h5M107 542.5h5M139 542.5h4M243 542.5h1M807 542.5h1M934 542.5h2M115 543.5h5M123 543.5h5M131 543.5h5M244 543.5h2M486 543.5h2M933 543.5h1M246 544.5h2M483 544.5h3M931 544.5h2M479 545.5h1M811 545.5h1M251 546.5h1M475 546.5h4M812 546.5h1M252 547.5h2M471 547.5h1M813 547.5h1M927 547.5h1M254 548.5h2M467 548.5h4M814 548.5h2M926 548.5h1M463 549.5h1M924 549.5h2M259 550.5h1M459 550.5h4M923 550.5h1M260 551.5h2M455 551.5h1M819 551.5h2M262 552.5h2M443 552.5h5M451 552.5h4M821 552.5h1M918 552.5h2M435 553.5h5M822 553.5h2M916 553.5h2M267 554.5h1M411 554.5h5M419 554.5h5M427 554.5h5M915 554.5h1M268 555.5h2M403 555.5h5M827 555.5h1M270 556.5h2M395 556.5h5M828 556.5h2M910 556.5h2M387 557.5h5M830 557.5h2M908 557.5h2M275 558.5h1M383 558.5h1M907 558.5h1M276 559.5h3M380 559.5h3M835 559.5h1M903 559.5h1M279 560.5h1M379 560.5h1M836 560.5h2M899 560.5h4M283 561.5h1M375 561.5h1M838 561.5h2M895 561.5h1M284 562.5h2M371 562.5h4M891 562.5h4M286 563.5h2M363 563.5h5M843 563.5h1M887 563.5h1M359 564.5h1M844 564.5h4M883 564.5h4M291 565.5h1M356 565.5h3M851 565.5h5M879 565.5h1M292 566.5h3M355 566.5h1M859 566.5h5M867 566.5h5M875 566.5h4M295 567.5h1M351 567.5h1M299 568.5h1M347 568.5h4M300 569.5h3M339 569.5h5M303 570.5h1M335 570.5h1M307 571.5h5M331 571.5h4M315 572.5h5M323 572.5h5" fill="none" stroke="#ff0000" stroke-width="1"/>
<line x1="6" y1="616.5" x2="1210" y2="616.5" stroke="#c0c0c0" stroke-dasharray="3 3"/>
<line x1="6" y1="657.5" x2="1210" y2="657.5" stroke="#c0c0c0" stroke-dasharray="3 3"/>
<path d="M547 599.5h3M543 600.5h4M550 600.5h1M539 601.5h4M550 601.5h1M535 602.5h4M551 602.5h1M531 603.5h4M552 603.5h1M527 604.5h4M552 604.5h1M521 605.5h6M553 605.5h1M492 606.5h2M516 606.5h5M554 606.5h1M490 607.5h2M494 607.5h2M513 607.5h3M554 607.5h1M488 608.5h2M496 608.5h1M511 608.5h2M555 608.5h1M486 609.5h2M497 609.5h2M507 609.5h4M556 609.5h1M563 609.5h3M485 610.5h1M499 610.5h2M503 610.5h4M556 610.5h1M559 610.5h4M566 610.5h2M597 610.5h10M483 611.5h2M501 611.5h2M557 611.5h2M568 611.5h2M595 611.5h2M607 611.5h4M481 612.5h2M570 612.5h2M593 612.5h2M611 612.5h3M480 613.5h1M572 613.5h2M592 613.5h1M614 613.5h1M931 613.5h3M478 614.5h2M574 614.5h1M590 614.5h2M615 614.5h1M927 614.5h4M934 614.5h1M477 615.5h1M575 615.5h2M588 615.5h2M616 615.5h1M925 615.5h2M935 615.5h1M475 616.5h2M577 616.5h1M586 616.5h2M617 616.5h1M923 616.5h2M936 616.5h1M473 617.5h2M578 617.5h1M584 617.5h2M617 617.5h1M921 617.5h2M937 617.5h1M36 618.5h3M109 618.5h1M472 618.5h1M579 618.5h2M582 618.5h2M618 618.5h1M920 618.5h1M938 618.5h1M34 619.5h2M39 619.5h2M107 619.5h2M110 619.5h1M470 619.5h2M581 619.5h1M619 619.5h1M918 619.5h2M939 619.5h1M32 620.5h2M41 620.5h3M106 620.5h1M110 620.5h1M467 620.5h3M620 620.5h1M915 620.5h3M940 620.5h1M30 621.5h2M44 621.5h3M105 621.5h1M111 621.5h1M132 621.5h11M463 621.5h4M621 621.5h1M911 621.5h4M941 621.5h9M29 622.5h1M47 622.5h2M103 622.5h2M111 622.5h1M129 622.5h3M143 622.5h4M461 622.5h2M622 622.5h2M701 622.5h2M732 622.5h5M909 622.5h2M27 623.5h2M49 623.5h3M102 623.5h1M112 623.5h1M127 623.5h2M147 623.5h19M181 623.5h1M460 623.5h1M624 623.5h2M700 623.5h1M703 623.5h4M730 623.5h2M737 623.5h5M908 623.5h1M25 624.5h2M52 624.5h3M101 624.5h1M112 624.5h1M125 624.5h2M166 624.5h2M179 624.5h2M182 624.5h1M428 624.5h3M459 624.5h1M626 624.5h2M659 624.5h4M699 624.5h1M707 624.5h3M728 624.5h2M742 624.5h1M907 624.5h1M24 625.5h1M55 625.5h2M100 625.5h1M113 625.5h1M124 625.5h1M168 625.5h1M177 625.5h2M183 625.5h1M361 625.5h5M426 625.5h2M431 625.5h4M458 625.5h1M628 625.5h2M655 625.5h4M663 625.5h2M698 625.5h1M710 625.5h2M726 625.5h2M743 625.5h1M905 625.5h2M22 626.5h2M57 626.5h3M99 626.5h1M114 626.5h1M123 626.5h1M169 626.5h2M176 626.5h1M184 626.5h1M355 626.5h6M366 626.5h1M424 626.5h2M435 626.5h4M457 626.5h1M630 626.5h1M652 626.5h3M665 626.5h3M697 626.5h1M712 626.5h2M723 626.5h3M744 626.5h1M904 626.5h1M5 627.5h4M17 627.5h5M60 627.5h2M99 627.5h1M114 627.5h1M122 627.5h1M171 627.5h2M174 627.5h2M185 627.5h1M324 627.5h3M351 627.5h4M366 627.5h1M422 627.5h2M439 627.5h4M456 627.5h1M631 627.5h2M649 627.5h3M668 627.5h2M697 627.5h1M714 627.5h2M719 627.5h4M745 627.5h1M893 627.5h2M903 627.5h1M9 628.5h8M62 628.5h1M98 628.5h1M115 628.5h1M121 628.5h1M173 628.5h1M185 628.5h1M321 628.5h3M327 628.5h4M349 628.5h2M367 628.5h1M419 628.5h3M443 628.5h4M455 628.5h1M633 628.5h1M647 628.5h2M670 628.5h1M696 628.5h1M716 628.5h3M746 628.5h1M892 628.5h1M895 628.5h4M902 628.5h1M63 629.5h1M97 629.5h1M115 629.5h1M120 629.5h1M186 629.5h1M319 629.5h2M331 629.5h3M347 629.5h2M367 629.5h1M415 629.5h4M447 629.5h4M454 629.5h1M634 629.5h1M643 629.5h4M671 629.5h2M695 629.5h1M747 629.5h1M891 629.5h1M899 629.5h3M64 630.5h1M96 630.5h1M116 630.5h1M119 630.5h1M187 630.5h1M317 630.5h2M334 630.5h2M345 630.5h2M368 630.5h1M412 630.5h3M451 630.5h3M635 630.5h2M639 630.5h4M673 630.5h1M694 630.5h1M748 630.5h1M844 630.5h2M876 630.5h2M890 630.5h1M65 631.5h1M95 631.5h1M116 631.5h1M118 631.5h1M188 631.5h1M193 631.5h6M316 631.5h1M336 631.5h2M344 631.5h1M368 631.5h1M410 631.5h2M637 631.5h2M674 631.5h1M689 631.5h5M749 631.5h2M842 631.5h2M846 631.5h2M874 631.5h2M878 631.5h2M889 631.5h1M65 632.5h1M95 632.5h1M117 632.5h1M189 632.5h4M199 632.5h4M315 632.5h1M338 632.5h2M342 632.5h2M369 632.5h1M381 632.5h2M408 632.5h2M675 632.5h2M681 632.5h8M751 632.5h2M840 632.5h2M848 632.5h2M872 632.5h2M880 632.5h1M888 632.5h1M66 633.5h1M94 633.5h1M203 633.5h14M314 633.5h1M340 633.5h2M370 633.5h1M380 633.5h1M383 633.5h4M406 633.5h2M677 633.5h4M753 633.5h3M838 633.5h2M850 633.5h2M870 633.5h2M881 633.5h2M887 633.5h1M67 634.5h1M89 634.5h5M217 634.5h5M313 634.5h1M370 634.5h1M379 634.5h1M387 634.5h19M756 634.5h18M835 634.5h3M852 634.5h2M869 634.5h1M883 634.5h2M886 634.5h1M68 635.5h1M84 635.5h5M222 635.5h1M313 635.5h1M371 635.5h1M377 635.5h2M774 635.5h1M831 635.5h4M854 635.5h2M867 635.5h2M885 635.5h1M69 636.5h2M81 636.5h3M223 636.5h1M312 636.5h1M371 636.5h1M376 636.5h1M774 636.5h1M828 636.5h3M856 636.5h1M865 636.5h2M71 637.5h4M79 637.5h2M224 637.5h1M311 637.5h1M372 637.5h1M375 637.5h1M775 637.5h1M826 637.5h2M857 637.5h2M864 637.5h1M75 638.5h4M225 638.5h1M310 638.5h1M372 638.5h1M374 638.5h1M776 638.5h1M824 638.5h2M859 638.5h2M862 638.5h2M226 639.5h1M293 639.5h17M373 639.5h1M776 639.5h1M822 639.5h2M861 639.5h1M227 640.5h1M291 640.5h2M777 640.5h1M820 640.5h2M228 641.5h1M233 641.5h6M289 641.5h2M778 641.5h1M818 641.5h2M229 642.5h4M239 642.5h2M276 642.5h3M288 642.5h1M778 642.5h1M816 642.5h2M241 643.5h3M274 643.5h2M279 643.5h4M286 643.5h2M779 643.5h1M814 643.5h2M244 644.5h2M272 644.5h2M283 644.5h3M780 644.5h1M795 644.5h3M812 644.5h2M246 645.5h1M270 645.5h2M780 645.5h1M791 645.5h4M798 645.5h2M810 645.5h2M247 646.5h1M268 646.5h2M781 646.5h10M800 646.5h2M808 646.5h2M248 647.5h1M266 647.5h2M802 647.5h2M806 647.5h2M249 648.5h1M264 648.5h2M804 648.5h2M250 649.5h1M262 649.5h2M251 650.5h1M259 650.5h3M252 651.5h1M255 651.5h4M253 652.5h2" fill="none" stroke="#1486ff" stroke-width="1"/>
<rect x="1211" y="59" width="2" height="1" fill="#000"/>
<text x="1216" y="63" font-size="10" fill="#000" stroke="#000" stroke-width="0.2" textLength="27" lengthAdjust="spacingAndGlyphs" >5892.0</text>
<rect x="1211" y="92" width="2" height="1" fill="#000"/>
<text x="1216" y="96" font-size="10" fill="#000" stroke="#000" stroke-width="0.2" textLength="27" lengthAdjust="spacingAndGlyphs" >5802.0</text>
<rect x="1211" y="125" width="2" height="1" fill="#000"/>
<text x="1216" y="129" font-size="10" fill="#000" stroke="#000" stroke-width="0.2" textLength="27" lengthAdjust="spacingAndGlyphs" >5714.5</text>
<rect x="1211" y="158" width="2" height="1" fill="#000"/>
<text x="1216" y="162" font-size="10" fill="#000" stroke="#000" stroke-width="0.2" textLength="27" lengthAdjust="spacingAndGlyphs" >5624.5</text>
<rect x="1211" y="191" width="2" height="1" fill="#000"/>
<text x="1216" y="195" font-size="10" fill="#000" stroke="#000" stroke-width="0.2" textLength="27" lengthAdjust="spacingAndGlyphs" >5537.0</text>
<rect x="1211" y="224" width="2" height="1" fill="#000"/>
<text x="1216" y="228" font-size="10" fill="#000" stroke="#000" stroke-width="0.2" textLength="27" lengthAdjust="spacingAndGlyphs" >5449.5</text>
<rect x="1211" y="257" width="2" height="1" fill="#000"/>
<text x="1216" y="261" font-size="10" fill="#000" stroke="#000" stroke-width="0.2" textLength="27" lengthAdjust="spacingAndGlyphs" >5359.5</text>
<rect x="1211" y="290" width="2" height="1" fill="#000"/>
<text x="1216" y="294" font-size="10" fill="#000" stroke="#000" stroke-width="0.2" textLength="27" lengthAdjust="spacingAndGlyphs" >5272.0</text>
<rect x="1211" y="323" width="2" height="1" fill="#000"/>
<text x="1216" y="327" font-size="10" fill="#000" stroke="#000" stroke-width="0.2" textLength="27" lengthAdjust="spacingAndGlyphs" >5182.0</text>
<rect x="1211" y="356" width="2" height="1" fill="#000"/>
<text x="1216" y="360" font-size="10" fill="#000" stroke="#000" stroke-width="0.2" textLength="27" lengthAdjust="spacingAndGlyphs" >5094.5</text>
<rect x="1211" y="389" width="2" height="1" fill="#000"/>
<text x="1216" y="393" font-size="10" fill="#000" stroke="#000" stroke-width="0.2" textLength="27" lengthAdjust="spacingAndGlyphs" >5004.5</text>
<rect x="1211" y="422" width="2" height="1" fill="#000"/>
<text x="1216" y="426" font-size="10" fill="#000" stroke="#000" stroke-width="0.2" textLength="27" lengthAdjust="spacingAndGlyphs" >4917.0</text>
<rect x="1211" y="455" width="2" height="1" fill="#000"/>
<text x="1216" y="459" font-size="10" fill="#000" stroke="#000" stroke-width="0.2" textLength="27" lengthAdjust="spacingAndGlyphs" >4829.5</text>
<rect x="1213" y="180" width="34" height="11" fill="#4062e6"/>
<text x="1216" y="189" font-size="10" fill="#fff" stroke="#fff" stroke-width="0.2" textLength="27" lengthAdjust="spacingAndGlyphs" >5550.0</text>
<rect x="1213" y="230" width="34" height="11" fill="#4062e6"/>
<text x="1216" y="239" font-size="10" fill="#fff" stroke="#fff" stroke-width="0.2" textLength="27" lengthAdjust="spacingAndGlyphs" >5415.0</text>
<rect x="1213" y="279" width="34" height="11" fill="#4062e6"/>
<text x="1216" y="288" font-size="10" fill="#fff" stroke="#fff" stroke-width="0.2" textLength="27" lengthAdjust="spacingAndGlyphs" >5285.0</text>
<rect x="1213" y="132" width="34" height="11" fill="#00cc00"/>
<text x="1216" y="141" font-size="10" fill="#fff" stroke="#fff" stroke-width="0.2" textLength="27" lengthAdjust="spacingAndGlyphs" >5680.0</text>
<rect x="1213" y="112" width="34" height="11" fill="#000"/>
<text x="1216" y="121" font-size="10" fill="#fff" stroke="#fff" stroke-width="0.2" textLength="27" lengthAdjust="spacingAndGlyphs" >5734.7</text>
<rect x="1211" y="462" width="1" height="1" fill="#000"/>
<text x="1215" y="471" font-size="10" fill="#000" stroke="#000" stroke-width="0.2" textLength="26" lengthAdjust="spacingAndGlyphs" >134.11</text>
<rect x="1211" y="563" width="2" height="1" fill="#000"/>
<text x="1214" y="567" font-size="10" fill="#000" stroke="#000" stroke-width="0.2" textLength="18" lengthAdjust="spacingAndGlyphs" >0.00</text>
<text x="1214" y="579" font-size="10" fill="#000" stroke="#000" stroke-width="0.2" textLength="26" lengthAdjust="spacingAndGlyphs" >-22.95</text>
<rect x="1211" y="585" width="1" height="1" fill="#000"/>
<text x="1215" y="594" font-size="10" fill="#000" stroke="#000" stroke-width="0.2" textLength="14" lengthAdjust="spacingAndGlyphs" >100</text>
<rect x="1211" y="616" width="1" height="1" fill="#000"/>
<text x="1213" y="620" font-size="10" fill="#000" stroke="#000" stroke-width="0.2" textLength="10" lengthAdjust="spacingAndGlyphs" >70</text>
<rect x="1211" y="657" width="1" height="1" fill="#000"/>
<text x="1213" y="661" font-size="10" fill="#000" stroke="#000" stroke-width="0.2" textLength="10" lengthAdjust="spacingAndGlyphs" >30</text>
<rect x="1211" y="688" width="2" height="1" fill="#000"/>
<text x="1214" y="686" font-size="10" fill="#000" stroke="#000" stroke-width="0.2" textLength="4.5" lengthAdjust="spacingAndGlyphs" >0</text>
<path d="M8 37h7v1h-1v1h-1v1h-1v1h-1v-1h-1v-1h-1v-1h-1z" fill="#000"/>
<text x="20" y="42" font-size="10" fill="#000" stroke="#000" stroke-width="0.2" textLength="65" lengthAdjust="spacingAndGlyphs" >CHINA300-,H4</text>
<text x="90.7" y="42" font-size="10" fill="#000" stroke="#000" stroke-width="0.2" textLength="27.6" lengthAdjust="spacingAndGlyphs" >5726.7</text>
<text x="121.5" y="42" font-size="10" fill="#000" stroke="#000" stroke-width="0.2" textLength="27.8" lengthAdjust="spacingAndGlyphs" >5782.0</text>
<text x="152.3" y="42" font-size="10" fill="#000" stroke="#000" stroke-width="0.2" textLength="27.7" lengthAdjust="spacingAndGlyphs" >5707.2</text>
<text x="183" y="42" font-size="10" fill="#000" stroke="#000" stroke-width="0.2" textLength="27.7" lengthAdjust="spacingAndGlyphs" >5734.7</text>
<text x="8.6" y="473" font-size="10" fill="#000" stroke="#000" stroke-width="0.2" textLength="66" lengthAdjust="spacingAndGlyphs" >MACD(12,26,9)</text>
<text x="77.2" y="473" font-size="10" fill="#000" stroke="#000" stroke-width="0.2" textLength="23.4" lengthAdjust="spacingAndGlyphs" >77.17</text>
<text x="103.6" y="473" font-size="10" fill="#000" stroke="#000" stroke-width="0.2" textLength="23.2" lengthAdjust="spacingAndGlyphs" >42.29</text>
<text x="8.8" y="596" font-size="10" fill="#000" stroke="#000" stroke-width="0.2" textLength="31.7" lengthAdjust="spacingAndGlyphs" >RSI(14)</text>
<text x="43.6" y="596" font-size="10" fill="#000" stroke="#000" stroke-width="0.2" textLength="32.8" lengthAdjust="spacingAndGlyphs" >65.1019</text>
<rect x="5" y="690" width="1" height="3" fill="#000"/>
<text x="4.2" y="702" font-size="10" fill="#000" stroke="#000" stroke-width="0.2" textLength="52" lengthAdjust="spacingAndGlyphs" >19 Nov 2020</text>
<rect x="69" y="690" width="1" height="3" fill="#000"/>
<text x="68.2" y="702" font-size="10" fill="#000" stroke="#000" stroke-width="0.2" textLength="55" lengthAdjust="spacingAndGlyphs" >25 Nov 05:00</text>
<rect x="133" y="690" width="1" height="3" fill="#000"/>
<text x="132.2" y="702" font-size="10" fill="#000" stroke="#000" stroke-width="0.2" textLength="49" lengthAdjust="spacingAndGlyphs" >1 Dec 05:00</text>
<rect x="197" y="690" width="1" height="3" fill="#000"/>
<text x="196.2" y="702" font-size="10" fill="#000" stroke="#000" stroke-width="0.2" textLength="49" lengthAdjust="spacingAndGlyphs" >7 Dec 05:00</text>
<rect x="261" y="690" width="1" height="3" fill="#000"/>
<text x="260.2" y="702" font-size="10" fill="#000" stroke="#000" stroke-width="0.2" textLength="54" lengthAdjust="spacingAndGlyphs" >11 Dec 05:00</text>
<rect x="325" y="690" width="1" height="3" fill="#000"/>
<text x="324.2" y="702" font-size="10" fill="#000" stroke="#000" stroke-width="0.2" textLength="54" lengthAdjust="spacingAndGlyphs" >17 Dec 05:00</text>
<rect x="389" y="690" width="1" height="3" fill="#000"/>
<text x="388.2" y="702" font-size="10" fill="#000" stroke="#000" stroke-width="0.2" textLength="54" lengthAdjust="spacingAndGlyphs" >23 Dec 05:00</text>
<rect x="453" y="690" width="1" height="3" fill="#000"/>
<text x="452.2" y="702" font-size="10" fill="#000" stroke="#000" stroke-width="0.2" textLength="54" lengthAdjust="spacingAndGlyphs" >29 Dec 05:00</text>
<rect x="517" y="690" width="1" height="3" fill="#000"/>
<text x="516.2" y="702" font-size="10" fill="#000" stroke="#000" stroke-width="0.2" textLength="47" lengthAdjust="spacingAndGlyphs" >5 Jan 05:00</text>
<rect x="581" y="690" width="1" height="3" fill="#000"/>
<text x="580.2" y="702" font-size="10" fill="#000" stroke="#000" stroke-width="0.2" textLength="52" lengthAdjust="spacingAndGlyphs" >11 Jan 05:00</text>
<rect x="645" y="690" width="1" height="3" fill="#000"/>
<text x="644.2" y="702" font-size="10" fill="#000" stroke="#000" stroke-width="0.2" textLength="52" lengthAdjust="spacingAndGlyphs" >15 Jan 05:00</text>
<rect x="709" y="690" width="1" height="3" fill="#000"/>
<text x="708.2" y="702" font-size="10" fill="#000" stroke="#000" stroke-width="0.2" textLength="52" lengthAdjust="spacingAndGlyphs" >21 Jan 05:00</text>
<rect x="773" y="690" width="1" height="3" fill="#000"/>
<text x="772.2" y="702" font-size="10" fill="#000" stroke="#000" stroke-width="0.2" textLength="52" lengthAdjust="spacingAndGlyphs" >27 Jan 05:00</text>
<rect x="837" y="690" width="1" height="3" fill="#000"/>
<text x="836.2" y="702" font-size="10" fill="#000" stroke="#000" stroke-width="0.2" textLength="48" lengthAdjust="spacingAndGlyphs" >2 Feb 05:00</text>
<rect x="901" y="690" width="1" height="3" fill="#000"/>
<text x="900.2" y="702" font-size="10" fill="#000" stroke="#000" stroke-width="0.2" textLength="48" lengthAdjust="spacingAndGlyphs" >8 Feb 05:00</text>
<g fill="#ff0000" shape-rendering="auto">
<text x="934.5" y="343.5" font-size="30.7" fill="#ff0000" stroke="#fff" stroke-width="0.3" textLength="153.5" lengthAdjust="spacingAndGlyphs" font-family='"Liberation Sans", "Noto Sans CJK SC", sans-serif'>多空转折点</text>
<text x="1089" y="343.4" font-size="32.5" fill="#ff0000" stroke="#fff" stroke-width="0.5" textLength="74.6" lengthAdjust="spacingAndGlyphs">5680</text>
</g>
</svg>
</body></html>
